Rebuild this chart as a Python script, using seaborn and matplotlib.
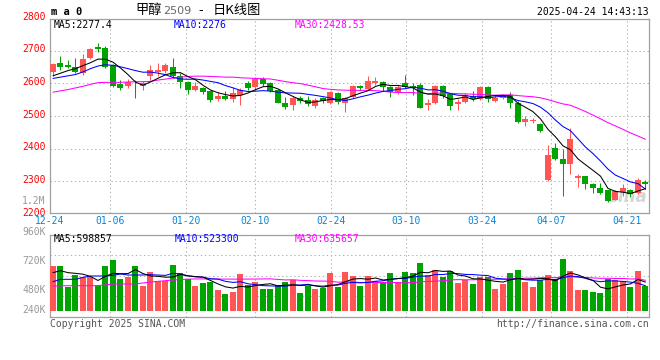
import matplotlib
matplotlib.use("Agg")
import matplotlib.pyplot as plt
import seaborn as sns
import numpy as np

# ---- data (80 trading days, 12-24 .. 04-24) ----
opens = [2635, 2662, 2657, 2649, 2631, 2678, 2711, 2707, 2655, 2597,
         2591, 2593, 2591, 2621, 2635, 2639, 2651, 2623, 2605, 2581,
         2585, 2575, 2551, 2561, 2553, 2563, 2600, 2590, 2612, 2602,
         2581, 2541, 2533, 2556, 2550, 2530, 2554, 2541, 2571, 2540,
         2557, 2593, 2584, 2600, 2604, 2590, 2572, 2602, 2592, 2595,
         2533, 2541, 2593, 2566, 2536, 2544, 2562, 2553, 2589, 2547,
         2556, 2563, 2541, 2483, 2484, 2476, 2303, 2402, 2367, 2353,
         2309, 2315, 2291, 2278, 2272, 2244, 2268, 2272, 2264, 2299]
highs = [2662, 2683, 2671, 2677, 2689, 2707, 2725, 2713, 2659, 2611,
         2613, 2611, 2607, 2657, 2663, 2661, 2677, 2631, 2607, 2603,
         2590, 2577, 2573, 2575, 2590, 2585, 2606, 2620, 2618, 2605,
         2583, 2559, 2560, 2561, 2560, 2554, 2558, 2575, 2574, 2559,
         2595, 2596, 2623, 2619, 2606, 2592, 2596, 2626, 2600, 2600,
         2552, 2594, 2595, 2569, 2552, 2569, 2575, 2592, 2592, 2563,
         2568, 2573, 2545, 2499, 2493, 2480, 2410, 2416, 2398, 2464,
         2321, 2317, 2295, 2295, 2274, 2272, 2291, 2276, 2309, 2303]
lows = [2622, 2641, 2647, 2631, 2627, 2675, 2697, 2647, 2589, 2581,
        2585, 2555, 2579, 2609, 2621, 2631, 2617, 2587, 2567, 2575,
        2568, 2543, 2547, 2549, 2543, 2533, 2580, 2580, 2592, 2572,
        2539, 2522, 2518, 2540, 2530, 2525, 2540, 2538, 2538, 2512,
        2555, 2580, 2580, 2596, 2577, 2557, 2567, 2585, 2564, 2523,
        2518, 2537, 2555, 2519, 2517, 2540, 2547, 2549, 2544, 2543,
        2551, 2525, 2478, 2468, 2479, 2452, 2301, 2365, 2256, 2323,
        2283, 2277, 2264, 2260, 2238, 2242, 2256, 2252, 2260, 2276]
closes = [2659, 2651, 2651, 2636, 2674, 2704, 2706, 2649, 2591, 2585,
          2603, 2591, 2601, 2641, 2641, 2657, 2621, 2603, 2581, 2593,
          2572, 2549, 2561, 2553, 2571, 2581, 2586, 2612, 2598, 2578,
          2541, 2526, 2556, 2547, 2537, 2550, 2547, 2572, 2542, 2556,
          2593, 2587, 2608, 2608, 2590, 2572, 2590, 2590, 2588, 2525,
          2541, 2593, 2562, 2532, 2542, 2563, 2553, 2590, 2552, 2556,
          2564, 2541, 2481, 2491, 2489, 2454, 2380, 2367, 2353, 2428,
          2315, 2291, 2281, 2264, 2240, 2270, 2278, 2260, 2303, 2291]

ma5 = [2623, 2631, 2639, 2645, 2654.2, 2663.2, 2674.2, 2673.8, 2664.8, 2647,
       2626.8, 2603.8, 2594.2, 2604.2, 2615.4, 2626.2, 2632.2, 2632.6, 2620.6, 2611,
       2594, 2579.6, 2571.2, 2565.6, 2561.2, 2563, 2570.4, 2580.6, 2589.6, 2591,
       2583, 2571, 2559.8, 2549.6, 2541.4, 2543.2, 2547.4, 2550.6, 2549.6, 2553.4,
       2562, 2570, 2577.2, 2590.4, 2597.2, 2593, 2593.6, 2590, 2586, 2573,
       2566.8, 2567.4, 2561.8, 2550.6, 2554, 2558.4, 2550.4, 2556, 2560, 2562.8,
       2563, 2560.6, 2538.8, 2526.6, 2513.2, 2491.2, 2459, 2436.2, 2408.6, 2396.4,
       2368.6, 2350.8, 2333.6, 2315.8, 2278.2, 2269.2, 2266.6, 2262.4, 2270.2, 2277.4]
ma10 = [2615, 2619, 2623, 2627, 2635, 2645, 2653, 2657, 2655, 2650.6,
        2645, 2639, 2634, 2634.5, 2631.2, 2626.5, 2618, 2613.4, 2612.4, 2613.2,
        2610.1, 2605.9, 2601.9, 2593.1, 2586.1, 2578.5, 2575, 2575.9, 2577.6, 2576.1,
        2573, 2570.7, 2570.2, 2569.6, 2566.2, 2563.1, 2559.2, 2555.2, 2549.6, 2547.4,
        2552.6, 2558.7, 2563.9, 2570, 2575.3, 2577.5, 2581.8, 2583.6, 2588.2, 2585.1,
        2579.9, 2580.5, 2575.9, 2568.3, 2563.5, 2562.6, 2558.9, 2558.9, 2555.3, 2558.4,
        2560.7, 2555.5, 2547.4, 2543.3, 2538, 2527.1, 2509.8, 2487.5, 2467.6, 2454.8,
        2429.9, 2404.9, 2384.9, 2362.2, 2337.3, 2318.9, 2308.7, 2298, 2293, 2276]
ma30 = [2573, 2577, 2581, 2586, 2591, 2597, 2602, 2603, 2603, 2603,
        2604, 2605, 2605, 2606, 2610, 2613, 2616, 2619, 2621, 2622,
        2622, 2621, 2620, 2619, 2619, 2617, 2616, 2615, 2614, 2613.3,
        2609.4, 2605.2, 2602, 2599.1, 2594.5, 2589.4, 2584.1, 2581.5, 2579.9, 2578.9,
        2578.6, 2578.4, 2578.7, 2577.6, 2575.9, 2573, 2572, 2571.6, 2571.8, 2569.5,
        2568.5, 2570, 2570, 2569.3, 2568.3, 2567.7, 2566.6, 2565.9, 2564.4, 2563.6,
        2564.4, 2564.9, 2562.4, 2560.5, 2558.9, 2555.7, 2550.2, 2543.3, 2537, 2532.8,
        2523.5, 2513.6, 2502.7, 2491.3, 2479.6, 2469.5, 2459.1, 2448.1, 2438.6, 2428.53]

# volume, in thousands of lots
vol_k = [932, 932, 504, 745, 697, 697, 518, 932, 1056, 656,
         711, 932, 518, 807, 621, 621, 952, 794, 656, 518,
         587, 607, 435, 352, 393, 766, 531, 600, 462, 462,
         545, 607, 642, 380, 524, 455, 469, 794, 504, 814,
         731, 518, 725, 628, 607, 794, 607, 814, 794, 1000,
         745, 849, 711, 835, 587, 642, 559, 697, 711, 462,
         566, 794, 849, 607, 490, 642, 745, 642, 1083, 828,
         435, 435, 393, 373, 656, 642, 628, 504, 835, 524]
vol_ma5 = [794, 835, 794, 780, 762, 715, 632, 718, 780, 772,
           775, 857, 775, 725, 718, 700, 704, 759, 729, 708,
           701, 632, 561, 500, 475, 511, 495, 528, 550, 564,
           520, 535, 544, 527, 540, 522, 494, 524, 549, 607,
           662, 672, 658, 683, 642, 654, 672, 690, 723, 802,
           792, 840, 820, 828, 745, 725, 667, 664, 639, 614,
           599, 646, 676, 656, 661, 676, 667, 625, 720, 788,
           747, 685, 635, 493, 458, 500, 538, 561, 653, 599]
vol_ma10 = [607, 656, 656, 656, 697, 725, 725, 725, 738, 767,
            745, 745, 746, 752, 745, 737, 781, 767, 727, 713,
            701, 668, 660, 614, 592, 606, 564, 545, 525, 520,
            515, 515, 536, 539, 552, 521, 515, 534, 538, 573,
            592, 583, 591, 616, 625, 658, 672, 674, 703, 722,
            723, 756, 755, 776, 774, 758, 754, 742, 734, 680,
            662, 656, 670, 647, 638, 638, 656, 651, 688, 725,
            712, 676, 630, 607, 623, 623, 612, 598, 573, 523]
vol_ma30 = [518, 520, 524, 524, 524, 524, 526, 540, 559, 559,
            559, 562, 580, 600, 614, 628, 642, 652, 660, 664,
            664, 663, 662, 661, 660, 660, 661, 662, 664, 666,
            654, 643, 647, 635, 629, 621, 620, 615, 597, 602,
            603, 589, 596, 590, 589, 595, 584, 584, 589, 605,
            610, 618, 627, 644, 650, 646, 647, 650, 658, 658,
            659, 665, 672, 680, 679, 685, 694, 689, 708, 709,
            699, 696, 685, 677, 678, 673, 674, 663, 665, 636]

date_labels = ["12-24", "01-06", "01-20", "02-10", "02-24", "03-10", "03-24", "04-07", "04-21"]
date_pos = [-0.4, 7.6, 17.73, 26.93, 37.07, 47.07, 57.2, 66.4, 76.53]
price_ticks = [2200, 2300, 2400, 2500, 2600, 2700, 2800]
vol_labels = ["960K", "720K", "480K", "240K"]

# ---- style ----
RED = "#FF5555"
GREEN = "#00A400"
GRID = "#B4B4B4"
BORDER = "#A0A0A0"
MONO = "DejaVu Sans Mono"
LW = 0.75  # ~1 px at 100 dpi

sns.set_style("white")
plt.rcParams["font.family"] = [MONO, "Noto Sans CJK SC"]

W, H = 660, 360
fig = plt.figure(figsize=(W / 100, H / 100), dpi=100)


def fx(x):
    return x / W


def fy(y):
    return 1 - y / H


ax_p = fig.add_axes([fx(50), fy(213.3), (649 - 50) / W, (213.3 - 19) / H])
ax_v = fig.add_axes([fx(50), fy(317), (649 - 50) / W, (317 - 234.5) / H])

idx = np.arange(len(closes))
o = np.array(opens, float)
c = np.array(closes, float)
colors = [RED if cc >= oo else GREEN for oo, cc in zip(o, c)]
body_bot = np.minimum(o, c)
body_h = np.maximum(np.abs(c - o), 2.2)

# ---- price panel ----
ax_p.vlines(idx, lows, highs, colors=colors, lw=LW, zorder=3)
ax_p.bar(idx, body_h, bottom=body_bot, width=0.8, color=colors, lw=0, zorder=4)
sns.lineplot(x=idx, y=ma30, ax=ax_p, color="#FF00FF", lw=LW, zorder=5)
sns.lineplot(x=idx, y=ma10, ax=ax_p, color="#0000FF", lw=LW, zorder=6)
sns.lineplot(x=idx, y=ma5, ax=ax_p, color="black", lw=LW, zorder=7)
ax_p.set_ylim(2202, 2797)
ax_p.set_yticks(price_ticks[1:-1])

# ---- volume panel ----
ax_v.bar(idx, vol_k, width=0.8, color=colors, lw=0, zorder=3)
sns.lineplot(x=idx, y=vol_ma30, ax=ax_v, color="#FF00FF", lw=LW, zorder=5)
sns.lineplot(x=idx, y=vol_ma10, ax=ax_v, color="#0000FF", lw=LW, zorder=6)
sns.lineplot(x=idx, y=vol_ma5, ax=ax_v, color="black", lw=LW, zorder=7)
ax_v.set_ylim(-124, 1584)
ax_v.set_yticks([310, 735, 1160])

for ax in (ax_p, ax_v):
    ax.set_xlim(-0.4, 79.47)
    ax.set_xticks(date_pos[1:])
    ax.set_xlabel("")
    ax.set_ylabel("")
    ax.tick_params(length=0, labelbottom=False, labelleft=False)
    ax.grid(True, color=GRID, lw=LW, ls=(0, (1.3, 2.6)), zorder=0)
    ax.set_axisbelow(True)
    for s in ax.spines.values():
        s.set_color(BORDER)
        s.set_linewidth(0.9)

# price labels (left, red)
ytr = ax_p.get_yaxis_transform()
for p in price_ticks:
    ax_p.text(-0.007, p + 4, str(p), transform=ytr, ha="right", va="center",
              color="#FF0000", fontsize=7, family=MONO, clip_on=False)
ax_p.text(-0.007, 2240, "1.2M", transform=ytr, ha="right", va="center",
          color="#999999", fontsize=7, family=MONO, clip_on=False)

# date labels
xtr = ax_p.get_xaxis_transform()
for pos, lab in zip(date_pos, date_labels):
    ax_p.text(pos, -0.04, lab, transform=xtr, ha="center", va="center",
              color="#0A84D6", fontsize=7, family=MONO, clip_on=False)

# volume labels
for yf, lab in zip([1.036, 0.675, 0.325, 0.084], vol_labels):
    ax_v.text(-0.007, yf, lab, transform=ax_v.transAxes, ha="right", va="center",
              color="#999999", fontsize=7, family=MONO, clip_on=False)

# sina watermark
ax_p.text(0.998, 0.085, "sina", transform=ax_p.transAxes, ha="right", va="center",
          fontsize=12, style="italic", weight="bold", color="#D6D6D6",
          family="DejaVu Sans", zorder=1)

# ---- header / MA texts / footer ----
CJK = ["Noto Sans CJK SC", "DejaVu Sans"]
fig.text(fx(51), fy(12), "m a 0", ha="left", va="center", fontsize=7.5,
         weight="bold", family=MONO, color="black")
fig.text(fx(162), fy(10.5), "甲醇", ha="right", va="center", fontsize=9.5, family=CJK, color="black")
fig.text(fx(163), fy(11), "2509", ha="left", va="center", fontsize=8, family="DejaVu Sans", color="#666666")
fig.text(fx(201), fy(10.5), "-", ha="center", va="center", fontsize=9.5, family=CJK, color="black")
fig.text(fx(213), fy(10.5), "日K线图", ha="left", va="center", fontsize=9.5, family=CJK, color="black")
fig.text(fx(649), fy(12), "2025-04-24 14:43:13", ha="right", va="center",
         fontsize=7, family=MONO, color="black")

fig.text(fx(54), fy(24.5), "MA5:2277.4", ha="left", va="center", fontsize=7, family=MONO, color="black")
fig.text(fx(174), fy(24.5), "MA10:2276", ha="left", va="center", fontsize=7, family=MONO, color="#0000FF")
fig.text(fx(295), fy(24.5), "MA30:2428.53", ha="left", va="center", fontsize=7, family=MONO, color="#FF00FF")

fig.text(fx(54), fy(238.5), "MA5:598857", ha="left", va="center", fontsize=7, family=MONO, color="black")
fig.text(fx(175), fy(238.5), "MA10:523300", ha="left", va="center", fontsize=7, family=MONO, color="#0000FF")
fig.text(fx(295), fy(238.5), "MA30:635657", ha="left", va="center", fontsize=7, family=MONO, color="#FF00FF")

fig.text(fx(50), fy(324), "Copyright 2025 SINA.COM", ha="left", va="center",
         fontsize=7, family=MONO, color="#555555")
fig.text(fx(649), fy(324), "http://finance.sina.com.cn", ha="right", va="center",
         fontsize=7, family=MONO, color="#555555")

fig.savefig("out.png", dpi=100)
